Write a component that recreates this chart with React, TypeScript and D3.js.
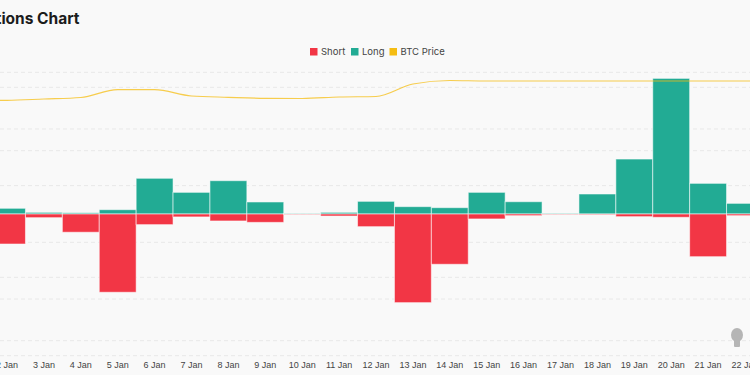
import React from "react";
import * as d3 from "d3";

const days = ["2 Jan","3 Jan","4 Jan","5 Jan","6 Jan","7 Jan","8 Jan","9 Jan","10 Jan","11 Jan","12 Jan","13 Jan","14 Jan","15 Jan","16 Jan","17 Jan","18 Jan","19 Jan","20 Jan","21 Jan","22 Jan"];
// liquidations, millions USD
const longVals = [4.5,1.3,1.0,3.4,28.2,17.1,26.3,9.5,0.4,1.3,10.0,5.8,5.0,17.1,9.7,0.5,15.8,43.4,107.1,24.2,8.4];
const shortVals = [23.7,2.9,14.4,61.8,8.4,2.3,5.5,6.6,0.3,1.6,10.0,70.0,39.7,3.9,1.3,0.3,0.5,2.1,2.6,33.7,1.3];
const priceVals = [112650,113230,113890,117330,117330,114550,113980,113540,113450,114110,114330,119840,121380,121160,121160,121160,121160,121160,121160,121160,121160];
const barTicks = [-100,-50,0,50,100];
const priceTicks = [0,25000,50000,75000,100000,125000];

const W = 750, H = 375;
const TOP = 72.3, BOTTOM = 355.7;
const BAND = 36.9;
const X0 = 7 - BAND / 2;

export default function App() {
  const x = d3.scaleBand<string>().domain(days).range([X0, X0 + BAND * days.length]).padding(0);
  const yBar = d3.scaleLinear().domain([-111.9, 111.9]).range([BOTTOM, TOP]);
  const yPrice = d3.scaleLinear().domain([0, 125000]).range([BOTTOM, TOP]);
  const cx = (d: string) => (x(d) as number) + x.bandwidth() / 2;
  const line = d3.line<number>()
    .x((_, i) => cx(days[i]))
    .y((v) => yPrice(v))
    .curve(d3.curveMonotoneX);
  const extPrice = [priceVals[0], ...priceVals, priceVals[priceVals.length - 1]];
  const lineExt = d3.line<number>()
    .x((_, i) => X0 + BAND / 2 + (i - 1) * BAND)
    .y((v) => yPrice(v))
    .curve(d3.curveMonotoneX);
  const font = "Inter, 'Noto Sans', sans-serif";
  const legend = [
    { label: "Short", color: "#f23645", x: 310 },
    { label: "Long", color: "#22ab94", x: 351 },
    { label: "BTC Price", color: "#f5bd13", x: 389.5 },
  ];
  return (
    <svg width={W} height={H} style={{ position: "absolute", left: 0, top: 0, background: "#f9f9f9" }}>
      <rect x={0} y={0} width={W} height={H} fill="#f9f9f9" />
      <text x={79.5} y={24} textAnchor="end" fontFamily={font} fontWeight={700} fontSize={15.5} fill="#1c1c1c">Liquidations Chart</text>
      {legend.map((l) => (
        <g key={l.label}>
          <rect x={l.x} y={48} width={7.5} height={7.5} fill={l.color} />
          <text x={l.x + 11} y={55} fontFamily={font} fontSize={9.5} fill="#444">{l.label}</text>
        </g>
      ))}
      {priceTicks.map((t) => (
        <line key={"p" + t} x1={0} x2={W} y1={yPrice(t)} y2={yPrice(t)} stroke="#e8e8e8" strokeDasharray="4,3" />
      ))}
      {barTicks.map((t) => (
        <line key={"b" + t} x1={0} x2={W} y1={yBar(t)} y2={yBar(t)} stroke="#e8e8e8" strokeDasharray="4,3" />
      ))}
      {days.map((d, i) => (
        <g key={d}>
          <rect x={x(d)} y={yBar(longVals[i])} width={x.bandwidth()} height={yBar(0) - yBar(longVals[i])}
            fill="#22ab94" stroke="rgba(255,255,255,0.55)" strokeWidth={1} />
          <rect x={x(d)} y={yBar(0)} width={x.bandwidth()} height={yBar(-shortVals[i]) - yBar(0)}
            fill="#f23645" stroke="rgba(255,255,255,0.55)" strokeWidth={1} />
        </g>
      ))}
      <path d={lineExt(extPrice) || ""} fill="none" stroke="#f5bd13" strokeOpacity={0.75} strokeWidth={1.2} />
      {days.map((d) => (
        <text key={"l" + d} x={cx(d)} y={367.5} textAnchor="middle" fontFamily="'Liberation Sans Narrow', 'Liberation Sans', sans-serif" fontSize={9} fill="#444">{d}</text>
      ))}
      <g fill="#b5b5b5">
        <ellipse cx={737} cy={335} rx={6} ry={7} />
        <rect x={734} y={340} width={6} height={7} rx={1} />
      </g>
    </svg>
  );
}
